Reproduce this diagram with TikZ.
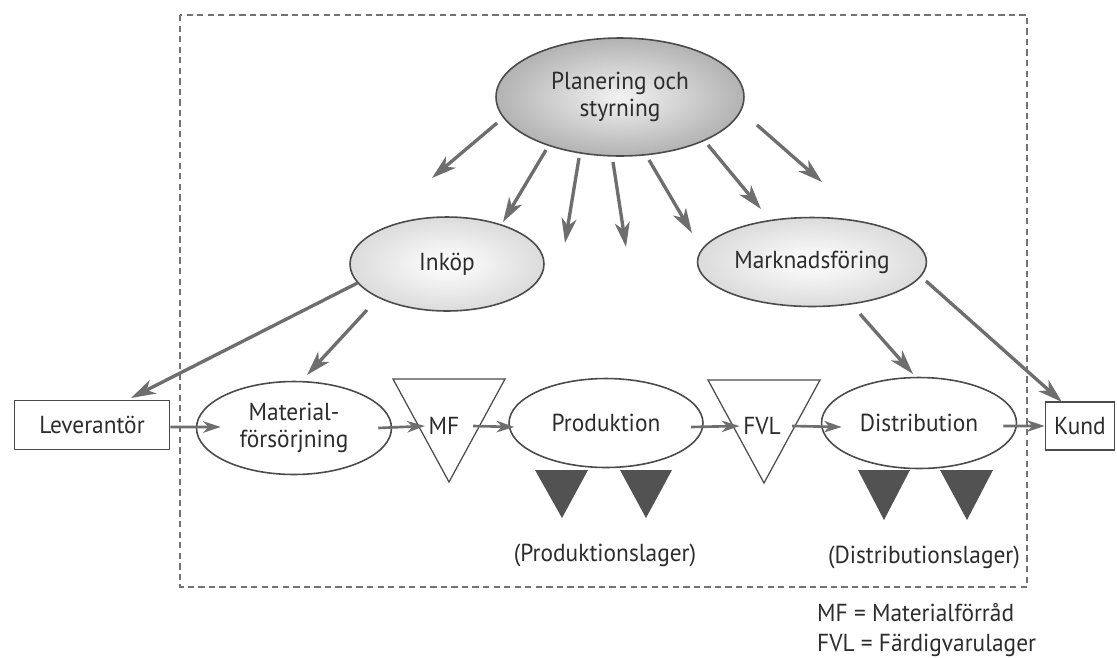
\documentclass[tikz,border=0pt]{standalone}
\usepackage{fontspec}
\setmainfont{PT Sans}[FakeStretch=0.95]
\usetikzlibrary{shapes.geometric,arrows.meta}
\definecolor{arrgray}{HTML}{6E6E6E}
\definecolor{txt}{HTML}{2C2C2C}
\definecolor{edge}{HTML}{4A4A4A}
\begin{document}
\begin{tikzpicture}[x=0.02cm,y=-0.02cm,
  every node/.style={font=\fontsize{14}{15.5}\selectfont, text=txt},
  ell/.style={ellipse, draw=edge, line width=0.9pt, inner sep=0pt, align=center},
  plainell/.style={ell, fill=white},
  shadedell/.style={ell, shading=radial, inner color=white, outer color=black!14},
  darkell/.style={ell, shading=radial, inner color=black!5, outer color=black!30},
  box/.style={rectangle, draw=edge, line width=0.9pt, inner sep=0pt},
  arr/.style={draw=arrgray, line width=1.9pt, -{Stealth[length=14pt,width=8.5pt,inset=4pt]}},
  harr/.style={draw=arrgray, line width=1.5pt, -{Stealth[length=10pt,width=6.5pt,inset=3pt]}},
  opentri/.style={draw=edge, line width=0.7pt, fill=white},
  darktri/.style={fill=black!68},
  frame/.style={draw=black!55, line width=0.9pt, dash pattern=on 3.6pt off 2.4pt},
]
\useasboundingbox (0,0) rectangle (1117,657);
\draw[frame] (180,15) rectangle (1027,587);

% nodes
\node[darkell, minimum width=4.96cm, minimum height=2.36cm] (plan) at (620,97) {Planering och\\styrning};
\node[shadedell, minimum width=3.88cm, minimum height=1.88cm] (ink) at (447,264) {Inköp};
\node[shadedell, minimum width=4.58cm, minimum height=1.78cm] (mark) at (812,262) {Marknadsföring};
\node[box, minimum width=3.1cm, minimum height=0.98cm] (lev) at (92,425) {Leverantör};
\node[plainell, minimum width=3.9cm, minimum height=1.86cm] (mat) at (294,428) {Material-\\försörjning};
\node[plainell, minimum width=3.88cm, minimum height=1.78cm] (prod) at (606,423) {Produktion};
\node[plainell, minimum width=3.9cm, minimum height=1.82cm] (dist) at (919,423) {Distribution};
\node[box, minimum width=1.38cm, minimum height=0.96cm] (kund) at (1080,426) {Kund};

% open triangles (stores)
\draw[opentri] (393,379) -- (505,379) -- (449,482) -- cycle;
\node[inner sep=2pt] (mf) at (444,426) {MF};
\draw[opentri] (708,380) -- (820,380) -- (764,483) -- cycle;
\node[inner sep=2pt] (fvl) at (762,426) {FVL};

% dark triangles
\fill[darktri] (535,470) -- (588,470) -- (562,518) -- cycle;
\fill[darktri] (620,470) -- (672,470) -- (646,518) -- cycle;
\fill[darktri] (858,470) -- (910,470) -- (884,520) -- cycle;
\fill[darktri] (940,470) -- (993,470) -- (967,520) -- cycle;

% labels
\node (plager) at (605,555) {(Produktionslager)};
\node (dlager) at (924,557) {(Distributionslager)};
\node[anchor=west] (leg1) at (811,613) {MF = Materialförråd};
\node[anchor=west] (leg2) at (811,645) {FVL = Färdigvarulager};

% planning arrows
\coordinate (a1s) at (497,123); \coordinate (a1e) at (432,178);
\coordinate (a2s) at (546,150); \coordinate (a2e) at (503,222);
\coordinate (a3s) at (579,158); \coordinate (a3e) at (565,243);
\coordinate (a4s) at (613,162); \coordinate (a4e) at (626,247);
\coordinate (a5s) at (649,160); \coordinate (a5e) at (692,233);
\coordinate (a6s) at (708,145); \coordinate (a6e) at (761,209);
\coordinate (a7s) at (757,125); \coordinate (a7e) at (822,182);
\foreach \i in {1,...,7} {\draw[arr] (a\i s) -- (a\i e);}

% from Inköp / Marknadsföring
\coordinate (ilev) at (131,398);
\coordinate (imats) at (367,310); \coordinate (imat) at (307,375);
\coordinate (mdists) at (860,314); \coordinate (mdist) at (913,374);
\coordinate (mkunds) at (926,281); \coordinate (mkund) at (1062,402);
\draw[arr] (ink.192) -- (ilev);
\draw[arr] (imats) -- (imat);
\draw[arr] (mdists) -- (mdist);
\draw[arr] (mkunds) -- (mkund);

% main flow
\draw[harr] ([yshift=-0.04cm]lev.east) -- ([xshift=0.5cm,yshift=0.02cm]mat.west);
\draw[harr] ([xshift=-0.28cm]mat.east) -- (mf.west);
\draw[harr] ([xshift=0.2cm]mf.east) -- ([xshift=0.12cm,yshift=-0.08cm]prod.east -| prod.west);
\draw[harr] ([xshift=-0.26cm,yshift=-0.08cm]prod.east) -- (fvl.west);
\draw[harr] ([xshift=0.15cm]fvl.east) -- ([xshift=0.42cm,yshift=-0.08cm]dist.west);
\draw[harr] ([xshift=-0.28cm,yshift=-0.06cm]dist.east) -- (kund.west);
\end{tikzpicture}
\end{document}
